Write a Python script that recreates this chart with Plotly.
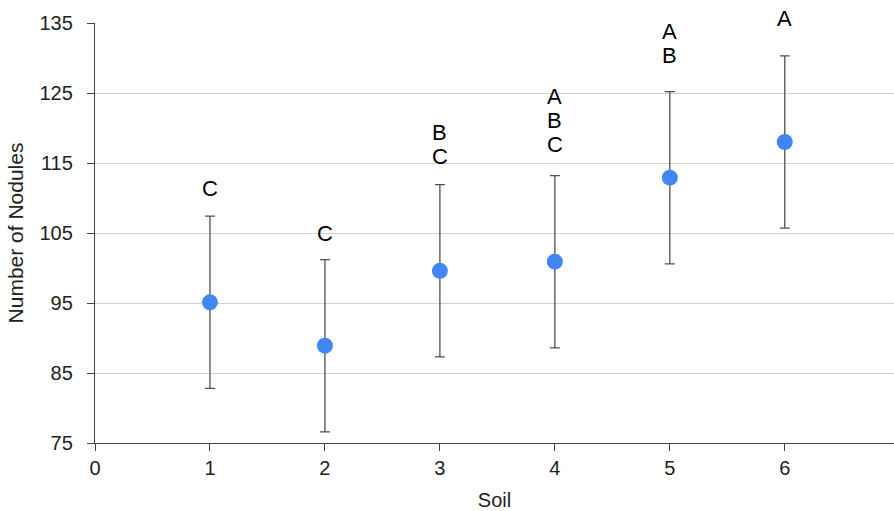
import plotly.graph_objects as go

soil = [1, 2, 3, 4, 5, 6]
nodules = [95.1, 88.9, 99.6, 100.9, 112.9, 118.0]
err = [12.3, 12.3, 12.3, 12.3, 12.3, 12.3]
letters = [["C"], ["C"], ["B", "C"], ["A", "B", "C"], ["A", "B"], ["A"]]
label_y = [111.4, 104.9, 115.9, 117.6, 130.3, 135.6]  # centre of lowest letter

Y_MIN, Y_MAX = 75, 135
FONT = "Liberation Sans, Arial, sans-serif"

fig = go.Figure()
fig.add_trace(go.Scatter(
    x=soil, y=nodules, mode="markers",
    marker=dict(color="#4285F4", size=16),
    error_y=dict(type="data", array=err, visible=True, color="#505050",
                 thickness=1.3, width=5),
    cliponaxis=False, showlegend=False,
))

LINE = 24
for x, stack, y in zip(soil, letters, label_y):
    n = len(stack)
    for i, t in enumerate(stack):
        fig.add_annotation(x=x, xref="x", y=(y - Y_MIN) / (Y_MAX - Y_MIN),
                           yref="y domain", text=t, showarrow=False,
                           yanchor="middle", yshift=(n - 1 - i) * LINE,
                           font=dict(family=FONT, size=22, color="black"))

fig.update_layout(
    width=894, height=511,
    margin=dict(l=95, r=0, t=23, b=68),
    paper_bgcolor="white", plot_bgcolor="white",
    font=dict(family=FONT, size=20, color="#222"),
)
fig.update_xaxes(
    range=[0, 6.95], tickvals=[0, 1, 2, 3, 4, 5, 6],
    showgrid=False, zeroline=False,
    showline=True, linecolor="#444", linewidth=1.3,
    ticks="outside", ticklen=7, tickcolor="#444",
    tickfont=dict(size=20, color="#222"),
    title=dict(text="Soil", font=dict(size=20, color="#222"), standoff=16),
)
fig.update_yaxes(
    range=[Y_MIN, Y_MAX], tickvals=[75, 85, 95, 105, 115, 125, 135],
    showgrid=True, gridcolor="#d0d0d0", gridwidth=1.2, zeroline=False,
    showline=True, linecolor="#444", linewidth=1.3,
    ticks="outside", ticklen=7, tickcolor="#444", ticklabelstandoff=10,
    tickfont=dict(size=20, color="#222"),
    title=dict(text="Number of Nodules", font=dict(size=21, color="#222"), standoff=10),
)

fig.write_html("out.html")
